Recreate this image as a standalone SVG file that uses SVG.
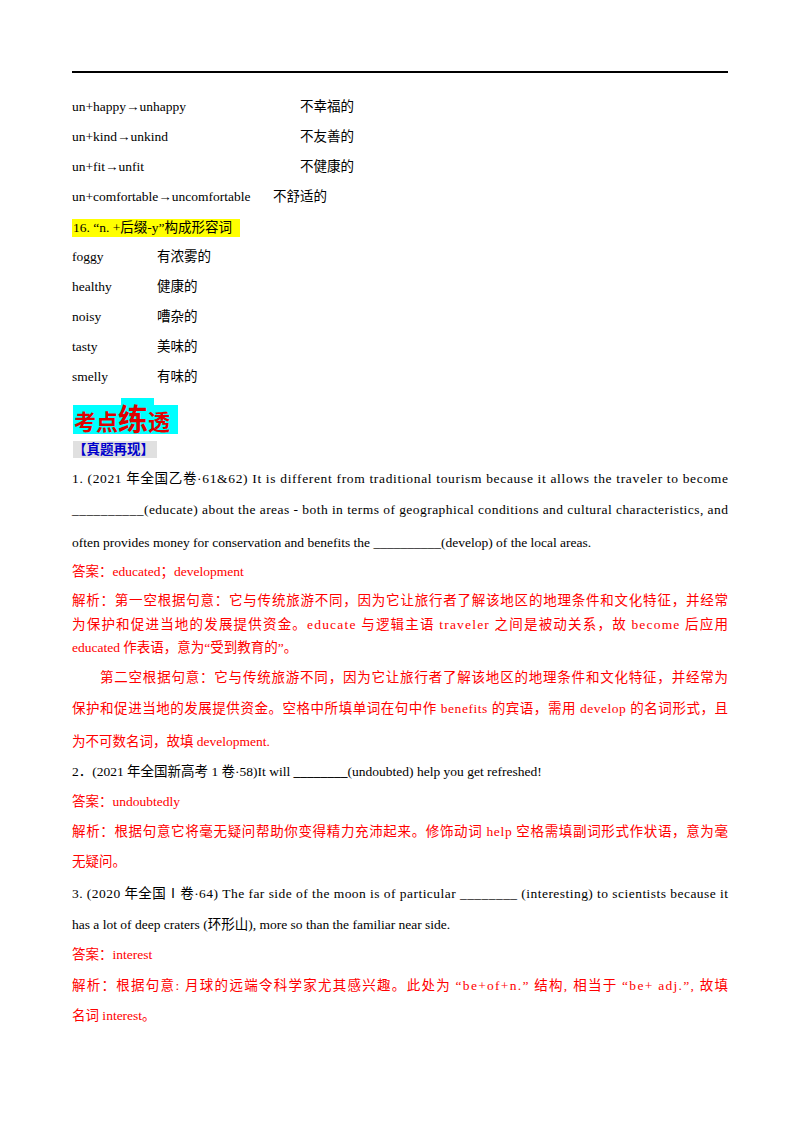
<svg xmlns="http://www.w3.org/2000/svg" width="800" height="1132" viewBox="0 0 800 1132">
<style>
text{font-family:"Liberation Serif","Noto Sans CJK SC",serif;font-size:13.5px;fill:#000}
.r{fill:#ff0000}
</style>
<rect width="800" height="1132" fill="#fff"/>
<line x1="72" y1="72" x2="728" y2="72" stroke="#000" stroke-width="2"/>
<text x="72" y="111">un+happy→unhappy</text><text x="300" y="111">不幸福的</text>
<text x="72" y="141">un+kind→unkind</text><text x="300" y="141">不友善的</text>
<text x="72" y="171">un+fit→unfit</text><text x="300" y="171">不健康的</text>
<text x="72" y="201">un+comfortable→uncomfortable</text><text x="273" y="201">不舒适的</text>
<rect x="72" y="219" width="168" height="18" fill="#ffff00"/>
<text x="73" y="232">16. “n. +后缀-y”构成形容词</text>
<text x="72" y="261">foggy</text><text x="157" y="261">有浓雾的</text>
<text x="72" y="291">healthy</text><text x="157" y="291">健康的</text>
<text x="72" y="321">noisy</text><text x="157" y="321">嘈杂的</text>
<text x="72" y="351">tasty</text><text x="157" y="351">美味的</text>
<text x="72" y="381">smelly</text><text x="157" y="381">有味的</text>
<rect x="73" y="405" width="105" height="29" fill="#00ffff"/>
<rect x="121" y="398" width="33" height="10" fill="#00ffff"/>
<text x="74" y="430" style="font-size:22px;font-weight:bold;fill:#e00000">考点<tspan style="font-size:30px">练</tspan>透</text>
<rect x="73" y="441" width="84" height="17" fill="#e0e0e0"/>
<text x="73" y="454" style="font-weight:bold;fill:#0000cc">【真题再现】</text>
<text x="72" y="483" textLength="656">1. (2021 年全国乙卷·61&amp;62)  It is different from traditional tourism because it allows the traveler to become</text>
<text x="72" y="514" textLength="656">__________(educate) about the areas  -  both in terms of geographical conditions and cultural characteristics, and</text>
<text x="72" y="547">often provides money for conservation and benefits the  __________(develop) of the local areas.</text>
<text class="r" x="72" y="576">答案：educated；development</text>
<text class="r" x="72" y="605" textLength="656">解析：第一空根据句意：它与传统旅游不同，因为它让旅行者了解该地区的地理条件和文化特征，并经常</text>
<text class="r" x="72" y="629" textLength="656">为保护和促进当地的发展提供资金。educate 与逻辑主语 traveler 之间是被动关系，故 become 后应用</text>
<text class="r" x="72" y="652">educated 作表语，意为“受到教育的”。</text>
<text class="r" x="100" y="682" textLength="628">第二空根据句意：它与传统旅游不同，因为它让旅行者了解该地区的地理条件和文化特征，并经常为</text>
<text class="r" x="72" y="713" textLength="656">保护和促进当地的发展提供资金。空格中所填单词在句中作 benefits 的宾语，需用 develop 的名词形式，且</text>
<text class="r" x="72" y="746">为不可数名词，故填 development.</text>
<text x="72" y="776">2．(2021 年全国新高考 1 卷·58)It will <tspan style="font-weight:bold">________</tspan>(undoubted) help you get refreshed!</text>
<text class="r" x="72" y="806">答案：undoubtedly</text>
<text class="r" x="72" y="836" textLength="656">解析：根据句意它将毫无疑问帮助你变得精力充沛起来。修饰动词 help 空格需填副词形式作状语，意为毫</text>
<text class="r" x="72" y="866">无疑问。</text>
<text x="72" y="898" textLength="656">3. (2020 年全国Ⅰ卷·64) The far side of the moon is of particular ________ (interesting) to    scientists because it</text>
<text x="72" y="929">has a lot of deep craters (环形山), more so than the familiar near side.</text>
<text class="r" x="72" y="959">答案：interest</text>
<text class="r" x="72" y="990" textLength="656">解析：根据句意: 月球的远端令科学家尤其感兴趣。此处为 “be+of+n.” 结构, 相当于 “be+ adj.”, 故填</text>
<text class="r" x="72" y="1020">名词 interest。</text>
</svg>
